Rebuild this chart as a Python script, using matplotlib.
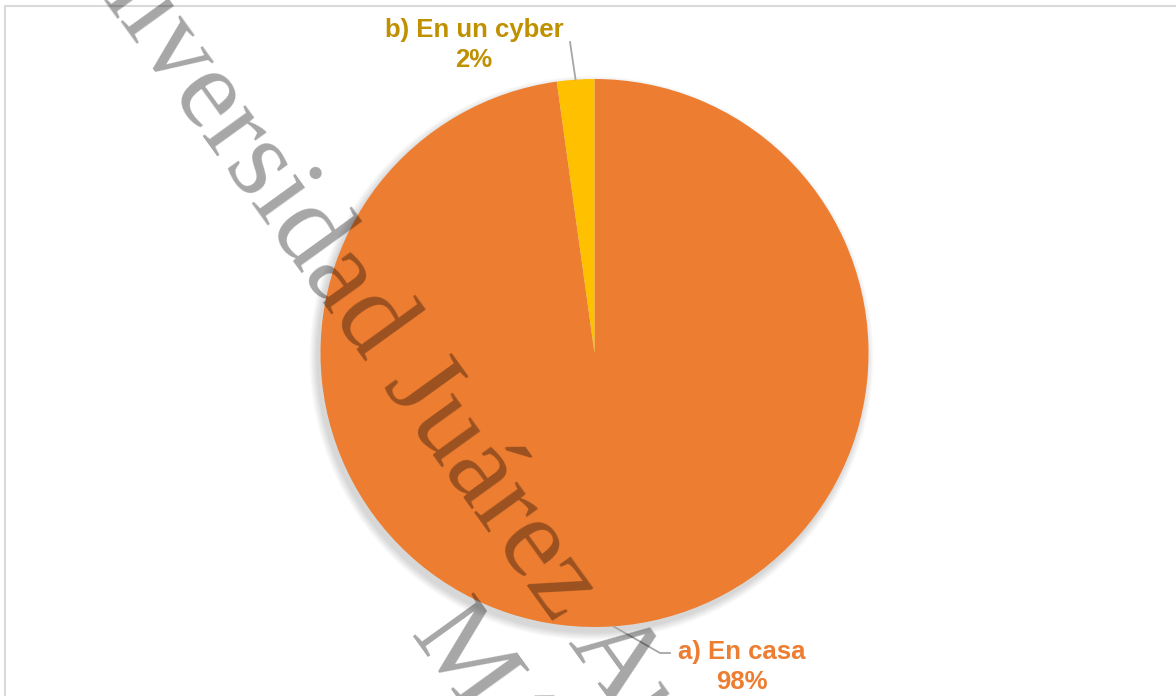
import numpy as np
import matplotlib
matplotlib.use("Agg")
import matplotlib.pyplot as plt
from matplotlib.patches import Circle, Rectangle

# datos del grafico
categorias = ["a) En casa", "b) En un cyber"]
porcentajes = [97.8, 2.2]
etiquetas_pct = ["98%", "2%"]
colores = ["#ED7D31", "#FFC000"]
colores_texto = ["#ED7D31", "#BF9000"]

W, H = 1176, 696
fig = plt.figure(figsize=(W / 100, H / 100), dpi=100)
ax = fig.add_axes([0, 0, 1, 1])

# marco gris claro del area del grafico
ax.add_patch(Rectangle((5, -10), W + 20, H - 6 + 10, fill=False,
                       edgecolor="#d9d9d9", linewidth=1.5, zorder=0))

cx, cy, r = 594.5, H - 353, 274

# sombra suave (hacia abajo e izquierda)
for k in range(10, 0, -1):
    ax.add_patch(Circle((cx - 3, cy - 5), r + k * 0.8, color="black",
                        alpha=0.014, linewidth=0, zorder=1))

wedges, _ = ax.pie(porcentajes, colors=colores, startangle=90, counterclock=False,
                   center=(cx, cy), radius=r, wedgeprops=dict(linewidth=0, zorder=2))

def punto_borde(w):
    ang = np.deg2rad((w.theta1 + w.theta2) / 2)
    return cx + r * np.cos(ang), cy + r * np.sin(ang)

# lineas guia
gris = "#a6a6a6"
x0, y0 = punto_borde(wedges[1])
ax.plot([x0, 570], [y0, H - 42], color=gris, lw=1.3, zorder=3)
x0, y0 = punto_borde(wedges[0])
ax.plot([x0, 660, 670], [y0, H - 653, H - 653], color=gris, lw=1.3, zorder=3)

# etiquetas
ax.text(474, H - 45, categorias[1] + "\n" + etiquetas_pct[1], ha="center", va="center",
        fontsize=18.5, fontweight="bold", family="Liberation Sans", color=colores_texto[1],
        linespacing=1.3, zorder=4)
ax.text(742, H - 667, categorias[0] + "\n" + etiquetas_pct[0], ha="center", va="center",
        fontsize=18.5, fontweight="bold", family="Liberation Sans", color=colores_texto[0],
        linespacing=1.3, zorder=4)

# marca de agua
ang = -54.2
ax.text(36, H + 95, "Universidad Juárez Autónoma de Tabasco", rotation=ang,
        rotation_mode="anchor", ha="left", va="baseline", fontsize=83,
        family="Liberation Serif", color="black", alpha=0.35, zorder=5)
ax.text(408, H - 635, "México", rotation=ang, rotation_mode="anchor",
        ha="left", va="baseline", fontsize=83, family="Liberation Serif",
        color="black", alpha=0.35, zorder=5)

ax.set_xlim(0, W)
ax.set_ylim(0, H)
ax.set_aspect("equal")
ax.axis("off")

fig.savefig("out.png", dpi=100)
